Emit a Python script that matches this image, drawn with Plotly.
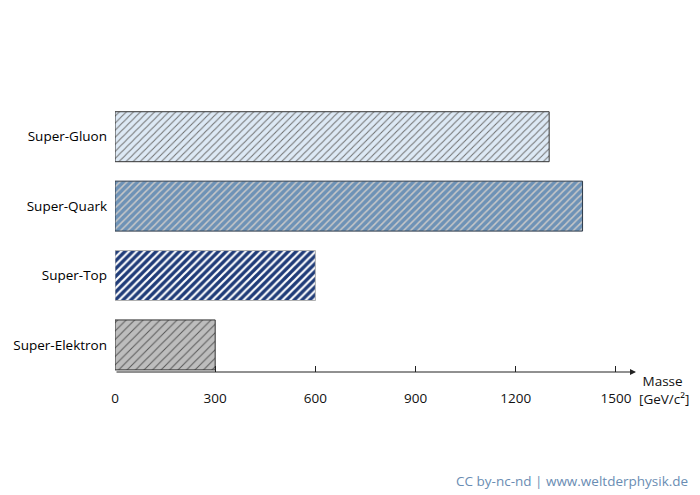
import plotly.graph_objects as go

categories = ["Super-Elektron", "Super-Top", "Super-Quark", "Super-Gluon"]
masses = [300, 600, 1400, 1300]
bg_colors = ["#bdbdbd", "#1f3b78", "#6e92b6", "#dde9f5"]
fg_colors = ["#5a5a5a", "#ffffff", "#c8c8c8", "#707070"]
line_colors = ["#333333", "#b0b0b0", "#2e3a48", "#333333"]
pattern_sizes = [6, 5.5, 5, 5]
pattern_solidity = [0.17, 0.4, 0.3, 0.2]
tick_vals = [0, 300, 600, 900, 1200, 1500]

fig = go.Figure()
for i in range(len(categories)):
    fig.add_trace(go.Bar(
        x=[masses[i]], y=[categories[i]], orientation="h",
        width=0.72,
        marker=dict(
            color=bg_colors[i],
            line=dict(color=line_colors[i], width=1),
            pattern=dict(shape="/", fgcolor=fg_colors[i], bgcolor=bg_colors[i],
                         size=pattern_sizes[i], solidity=pattern_solidity[i],
                         fillmode="overlay", fgopacity=1),
        ),
        hoverinfo="skip",
    ))

fig.update_layout(
    width=700, height=495,
    margin=dict(l=115, r=64, t=102, b=123),
    paper_bgcolor="white", plot_bgcolor="white",
    showlegend=False,
    barmode="overlay",
    font=dict(family="Open Sans, Lato, sans-serif", size=13, color="#111111"),
    xaxis=dict(range=[0, 1560], tickvals=tick_vals, showgrid=False, zeroline=False,
               showline=False, ticks="inside", ticklen=6, tickcolor="#222222",
               tickwidth=1, tickfont=dict(size=13.5, color="#111111"),
               ticklabelstandoff=16, fixedrange=True, automargin=False),
    yaxis=dict(range=[-0.39, 3.5], showgrid=False, zeroline=False, showline=False,
               ticks="", ticklabelstandoff=7, tickfont=dict(size=13.5, color="#000000"),
               fixedrange=True, automargin=False,
               categoryorder="array", categoryarray=categories),
)

fig.add_annotation(x=1560, y=0, xref="x", yref="paper", ax=0, ay=0,
                   axref="x", ayref="pixel", showarrow=True, arrowhead=2,
                   arrowsize=1.2, arrowwidth=1, arrowcolor="#222222", text="")
fig.add_annotation(x=1, y=0, xref="paper", yref="paper", xanchor="left",
                   yanchor="top", xshift=1, yshift=2, align="left",
                   text="&nbsp;Masse<br>[GeV/c²]", showarrow=False,
                   font=dict(size=13.5, color="#111111"))
fig.add_annotation(x=1, y=0, xref="paper", yref="paper", xanchor="right",
                   yanchor="middle", xshift=54, yshift=-109,
                   text="CC by-nc-nd | www.weltderphysik.de", showarrow=False,
                   font=dict(size=13.5, color="#6a8db3"))

fig.write_html("out.html", config={"displayModeBar": False},
               post_script="document.body.style.margin='0';")
